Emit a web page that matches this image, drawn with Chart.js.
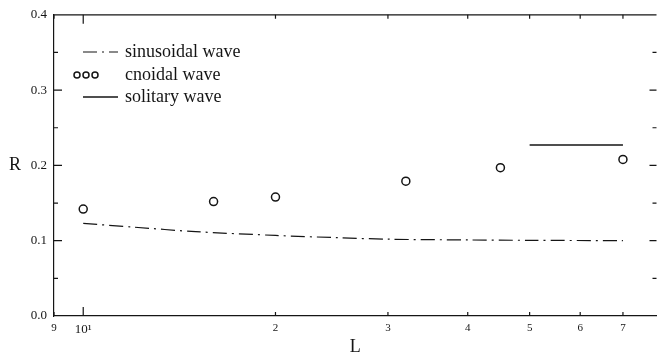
<!DOCTYPE html>
<html>
<head>
<meta charset="utf-8">
<script src="https://cdn.jsdelivr.net/npm/chart.js@4.4.0/dist/chart.umd.min.js"></script>
<style>
  html, body { margin: 0; padding: 0; background: #fff; overflow: hidden; }
</style>
</head>
<body>
<canvas id="myChart" width="662" height="359"></canvas>
<script>
// values
const xTickVals = [9, 10, 20, 30, 40, 50, 60, 70];
const xTickLabels = ['9', '10¹', '2', '3', '4', '5', '6', '7'];
const yTickLabels = ['0.0', '0.1', '0.2', '0.3', '0.4'];

const sinL = [10, 12, 15, 20, 25, 30, 40, 50, 70];
const sinR = [0.123, 0.118, 0.112, 0.107, 0.104, 0.102, 0.101, 0.1005, 0.100];

const cnoL = [10, 16, 20, 32, 45, 70];
const cnoR = [0.142, 0.152, 0.158, 0.179, 0.197, 0.208];

const solL = [50, 70];
const solR = [0.227, 0.227];

const seriesNames = ['sinusoidal wave', 'cnoidal wave', 'solitary wave'];

const ink = '#151515';
const serif = "'Liberation Serif', 'DejaVu Serif', serif";

const toPts = (xs, ys) => xs.map((x, i) => ({ x: x, y: ys[i] }));

// inward ticks, top frame line, legend and axis letters
const framePlugin = {
  id: 'frame',
  afterDraw(chart) {
    const ctx = chart.ctx;
    const area = chart.chartArea;
    const xs = chart.scales.x;
    const ys = chart.scales.y;
    ctx.save();
    ctx.strokeStyle = ink;
    ctx.lineWidth = 1.2;

    // top frame line
    ctx.beginPath();
    ctx.moveTo(area.left, area.top);
    ctx.lineTo(area.right, area.top);
    ctx.stroke();

    // x ticks, bottom and top
    xTickVals.forEach((v) => {
      const px = xs.getPixelForValue(v);
      if (px < area.left - 0.5) return;
      const len = v === 10 ? 9 : 4;
      ctx.beginPath();
      ctx.moveTo(px, area.bottom);
      ctx.lineTo(px, area.bottom - len);
      ctx.moveTo(px, area.top);
      ctx.lineTo(px, area.top + len);
      ctx.stroke();
    });

    // y ticks, left and right
    for (let i = 1; i < 8; i++) {
      const v = i * 0.05;
      const py = ys.getPixelForValue(v);
      const major = i % 2 === 0;
      ctx.beginPath();
      ctx.moveTo(area.left, py);
      ctx.lineTo(area.left + (major ? 8 : 4), py);
      ctx.moveTo(area.right, py);
      ctx.lineTo(area.right - (major ? 7 : 4), py);
      ctx.stroke();
    }

    // legend
    ctx.font = '18px ' + serif;
    ctx.fillStyle = ink;
    ctx.textBaseline = 'middle';
    ctx.textAlign = 'left';
    const lx0 = 83, lx1 = 118, tx = 125;
    const rowY = [52, 75, 97];
    chart.data.datasets.forEach((ds, i) => {
      const y = rowY[i];
      ctx.lineWidth = ds.borderWidth;
      ctx.strokeStyle = ds.borderColor;
      if (ds.showLine === false) {
        [77, 86, 95].forEach((cx) => {
          ctx.beginPath();
          ctx.arc(cx, y, 3, 0, Math.PI * 2);
          ctx.stroke();
        });
      } else {
        ctx.setLineDash(ds.borderDash || []);
        ctx.beginPath();
        ctx.moveTo(lx0, y);
        ctx.lineTo(lx1, y);
        ctx.stroke();
        ctx.setLineDash([]);
      }
      ctx.fillText(ds.label, tx, y);
    });

    // axis letters
    ctx.font = '18px ' + serif;
    ctx.textAlign = 'center';
    ctx.fillText('R', 15, ys.getPixelForValue(0.2));
    ctx.fillText('L', (area.left + area.right) / 2, 347);
    ctx.restore();
  }
};

new Chart(document.getElementById('myChart'), {
  type: 'line',
  data: {
    datasets: [
      {
        label: seriesNames[0],
        data: toPts(sinL, sinR),
        borderColor: ink,
        borderWidth: 1.2,
        borderDash: [14, 5, 2, 5],
        pointRadius: 0,
        tension: 0.3
      },
      {
        label: seriesNames[1],
        data: toPts(cnoL, cnoR),
        showLine: false,
        borderColor: ink,
        backgroundColor: '#fff',
        borderWidth: 1.5,
        pointStyle: 'circle',
        pointRadius: 4
      },
      {
        label: seriesNames[2],
        data: toPts(solL, solR),
        borderColor: ink,
        borderWidth: 1.5,
        pointRadius: 0
      }
    ]
  },
  options: {
    responsive: false,
    animation: false,
    devicePixelRatio: 1,
    layout: { padding: { top: 14, right: 1, left: 0, bottom: 0 } },
    plugins: {
      legend: { display: false },
      tooltip: { enabled: false }
    },
    scales: {
      x: {
        type: 'logarithmic',
        min: 9,
        max: 79,
        afterBuildTicks: (scale) => {
          scale.ticks = xTickVals.map((v) => ({ value: v }));
        },
        afterFit: (scale) => { scale.height = 43; },
        grid: { display: false, drawTicks: false },
        border: { display: true, color: ink, width: 1.2 },
        ticks: {
          padding: 6,
          color: ink,
          maxRotation: 0,
          autoSkip: false,
          font: (c) => ({ family: serif, size: c.tick && c.tick.value === 10 ? 13 : 11 }),
          callback: (v) => {
            const i = xTickVals.indexOf(v);
            return i >= 0 ? xTickLabels[i] : '';
          }
        }
      },
      y: {
        min: 0,
        max: 0.4,
        afterBuildTicks: (scale) => {
          scale.ticks = yTickLabels.map((t) => ({ value: parseFloat(t) }));
        },
        afterFit: (scale) => { scale.width = 54; },
        grid: { display: false, drawTicks: false },
        border: { display: true, color: ink, width: 1.2 },
        ticks: {
          padding: 7,
          color: ink,
          font: { family: serif, size: 13 },
          callback: (v) => yTickLabels[Math.round(v * 10)]
        }
      }
    }
  },
  plugins: [framePlugin]
});
</script>
</body>
</html>
